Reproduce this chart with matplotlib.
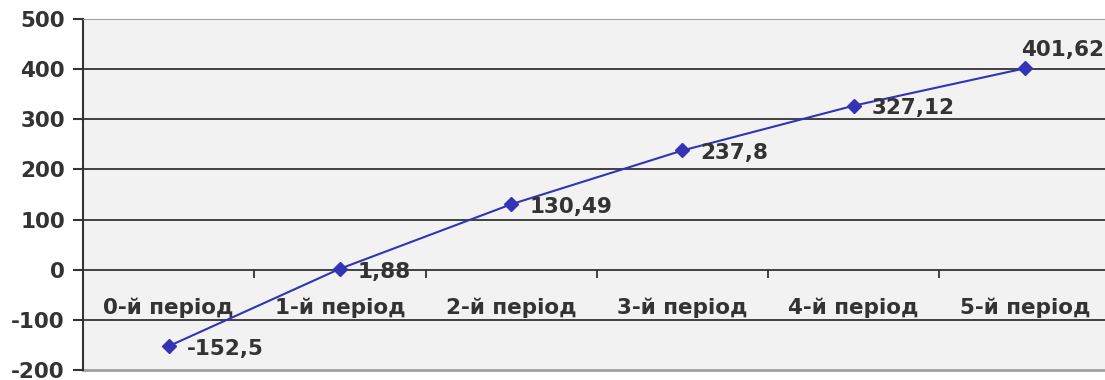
import numpy as np
import matplotlib.pyplot as plt

categories = ['0-й період', '1-й період', '2-й період', '3-й період', '4-й період', '5-й період']
values = [-152.5, 1.88, 130.49, 237.8, 327.12, 401.62]
value_labels = ['-152,5', '1,88', '130,49', '237,8', '327,12', '401,62']
yticks = [-200, -100, 0, 100, 200, 300, 400, 500]

plt.rcParams['font.family'] = 'DejaVu Sans'
plt.rcParams['font.weight'] = 'bold'
plt.rcParams['axes.unicode_minus'] = False
txt = '#333333'
fs = 15.5

fig = plt.figure(figsize=(11.05, 3.8), dpi=100)
ax = fig.add_axes([0.0751, 0.0263, 0.93, 0.9237])
ax.set_facecolor('#f2f2f2')

x = np.arange(len(categories))
ax.plot(x, values, color='#3333b5', lw=1.5, marker='D', ms=7, zorder=3)

# data labels
for i, (v, s) in enumerate(zip(values, value_labels)):
    if i == len(values) - 1:
        ax.annotate(s, (i, v), xytext=(-3, 6), textcoords='offset points',
                    ha='left', va='bottom', fontsize=fs, color=txt, fontweight='bold')
    else:
        ax.annotate(s, (i, v), xytext=(13, -2), textcoords='offset points',
                    ha='left', va='center', fontsize=fs, color=txt, fontweight='bold')

ax.set_xlim(-0.5, len(categories) - 0.5)
ax.set_ylim(-200, 500)
ax.set_yticks(yticks)
ax.set_yticklabels([str(t) for t in yticks])
ax.tick_params(axis='y', labelsize=fs, colors=txt, length=7, width=1.5, pad=6)

for g in [-100, 100, 200, 300, 400]:
    ax.axhline(g, color='#333333', lw=1.3, zorder=1)

ax.spines['bottom'].set_position(('data', 0))
ax.spines['bottom'].set_color('#333333')
ax.spines['bottom'].set_linewidth(1.3)
ax.spines['left'].set_color('#333333')
ax.spines['left'].set_linewidth(1.5)
ax.spines['top'].set_color('#a0a0a0')
ax.spines['right'].set_visible(False)

ax.set_xticks(np.arange(len(categories) + 1) - 0.5)
ax.set_xticklabels([])
ax.tick_params(axis='x', which='major', length=6, width=1.3, color='#333333', direction='out')
ax.set_xticks(x, minor=True)
ax.set_xticklabels(categories, minor=True)
ax.tick_params(axis='x', which='minor', length=0, pad=20, labelsize=fs, labelcolor=txt)

# bottom border of plot area
ax.axhline(-200, color='#a0a0a0', lw=2, zorder=1, clip_on=False)

fig.savefig('out.png', dpi=100)
